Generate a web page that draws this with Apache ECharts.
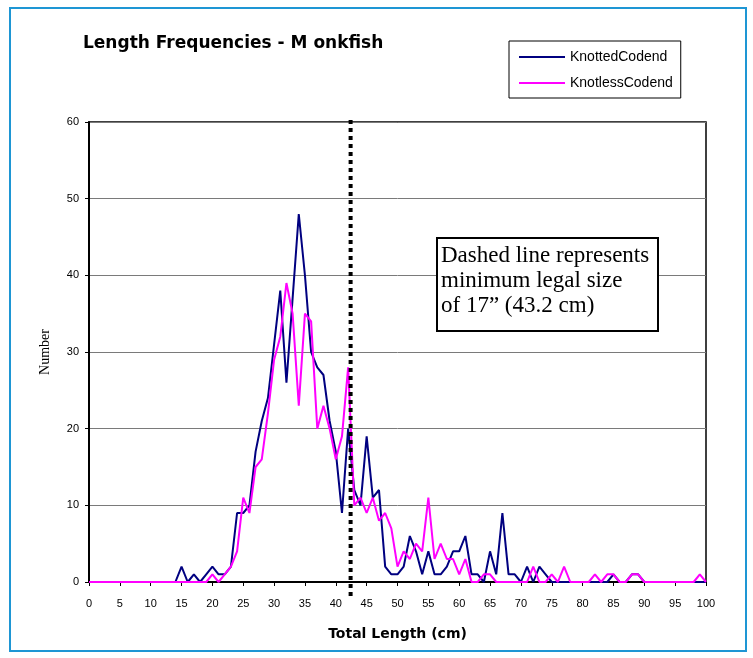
<!DOCTYPE html>
<html>
<head>
<meta charset="utf-8">
<title>Length Frequencies - Monkfish</title>
<script src="https://cdn.jsdelivr.net/npm/echarts@6/dist/echarts.min.js"></script>
<style>
html, body { margin: 0; padding: 0; background: #fff; }
#main { width: 753px; height: 658px; }
</style>
</head>
<body>
<div id="main"></div>
<script>
// total length (cm) of each count
const lengths = [
  0, 1, 2, 3, 4, 5, 6, 7, 8, 9,
  10, 11, 12, 13, 14, 15, 16, 17, 18, 19,
  20, 21, 22, 23, 24, 25, 26, 27, 28, 29,
  30, 31, 32, 33, 34, 35, 36, 37, 38, 39,
  40, 41, 42, 43, 44, 45, 46, 47, 48, 49,
  50, 51, 52, 53, 54, 55, 56, 57, 58, 59,
  60, 61, 62, 63, 64, 65, 66, 67, 68, 69,
  70, 71, 72, 73, 74, 75, 76, 77, 78, 79,
  80, 81, 82, 83, 84, 85, 86, 87, 88, 89,
  90, 91, 92, 93, 94, 95, 96, 97, 98, 99,
  100
]

const knotted = [
  0, 0, 0, 0, 0, 0, 0, 0, 0, 0,
  0, 0, 0, 0, 0, 2, 0, 1, 0, 1,
  2, 1, 1, 2, 9, 9, 10, 17, 21, 24,
  31, 38, 26, 37, 48, 40, 30, 28, 27, 21,
  17, 9, 20, 12, 10, 19, 11, 12, 2, 1,
  1, 2, 6, 4, 1, 4, 1, 1, 2, 4,
  4, 6, 1, 1, 0, 4, 1, 9, 1, 1,
  0, 2, 0, 2, 1, 0, 0, 0, 0, 0,
  0, 0, 0, 0, 0, 1, 0, 0, 1, 1,
  0, 0, 0, 0, 0, 0, 0, 0, 0, 0,
  0
]

const knotless = [
  0, 0, 0, 0, 0, 0, 0, 0, 0, 0,
  0, 0, 0, 0, 0, 0, 0, 0, 0, 0,
  1, 0, 1, 2, 4, 11, 9, 15, 16, 22,
  29, 32, 39, 35, 23, 35, 34, 20, 23, 20,
  16, 19, 28, 10, 11, 9, 11, 8, 9, 7,
  2, 4, 3, 5, 4, 11, 3, 5, 3, 3,
  1, 3, 0, 0, 1, 1, 0, 0, 0, 0,
  0, 0, 2, 0, 0, 1, 0, 2, 0, 0,
  0, 0, 1, 0, 1, 1, 0, 0, 1, 1,
  0, 0, 0, 0, 0, 0, 0, 0, 0, 1,
  0
]

const seriesNames = ['KnottedCodend', 'KnotlessCodend']
const legalLine = 42.4   // where the dashed line sits on the axis
const noteLines = ['Dashed line represents', 'minimum legal size', 'of 17\u201d (43.2 cm)']

var chartDom = document.getElementById('main')
var myChart = echarts.init(chartDom)
var option

function pairs(vals) {
  return lengths.map((x, i) => [x, vals[i]])
}

option = {
  animation: false,
  backgroundColor: '#fff',
  title: {
    text: 'Length Frequencies - M onkfish',
    left: 83,
    top: 35,
    padding: 0,
    textStyle: { fontFamily: 'DejaVu Sans', fontSize: 17, fontWeight: 'bold', color: '#000' }
  },
  legend: {
    data: seriesNames,
    orient: 'vertical',
    left: 509,
    top: 41,
    icon: 'rect',
    itemWidth: 46,
    itemHeight: 2,
    itemGap: 10,
    padding: [8, 8, 7, 10],
    borderColor: '#000',
    borderWidth: 1,
    backgroundColor: '#fff',
    textStyle: { fontFamily: 'Liberation Sans', fontSize: 14, lineHeight: 16, color: '#000' }
  },
  grid: {
    left: 89,
    right: 47,
    top: 122,
    bottom: 76,
    show: true,
    borderColor: '#000',
    borderWidth: 1.5
  },
  xAxis: {
    type: 'value',
    min: 0,
    max: 100,
    interval: 5,
    name: 'Total Length (cm)',
    nameLocation: 'middle',
    nameGap: 45,
    nameTextStyle: { fontFamily: 'DejaVu Sans', fontSize: 14, fontWeight: 'bold', color: '#000' },
    axisLine: { show: true, onZero: false, lineStyle: { color: '#000', width: 2 } },
    axisTick: { show: true, inside: false, length: 4, lineStyle: { color: '#000' } },
    axisLabel: { margin: 16, fontFamily: 'Liberation Sans', fontSize: 11, color: '#000' },
    splitLine: { show: false }
  },
  yAxis: {
    type: 'value',
    min: 0,
    max: 60,
    interval: 10,
    name: 'Number',
    nameLocation: 'middle',
    nameRotate: 90,
    nameGap: 37,
    nameTextStyle: { fontFamily: 'Liberation Serif', fontSize: 14, color: '#000' },
    axisLine: { show: true, lineStyle: { color: '#000', width: 2 } },
    axisTick: { show: true, inside: false, length: 4, lineStyle: { color: '#000' } },
    axisLabel: { margin: 10, fontFamily: 'Liberation Sans', fontSize: 11, color: '#000' },
    splitLine: { show: true, lineStyle: { color: '#7a7a7a', width: 1 } }
  },
  series: [
    {
      name: seriesNames[0],
      type: 'line',
      symbol: 'none',
      color: '#000080',
      lineStyle: { color: '#000080', width: 2 },
      data: pairs(knotted)
    },
    {
      name: seriesNames[1],
      type: 'line',
      symbol: 'none',
      color: '#ff00ff',
      lineStyle: { color: '#ff00ff', width: 2 },
      data: pairs(knotless)
    }
  ]
}
option && myChart.setOption(option)

// dashed legal-size line, note box and outer frame
var lx = myChart.convertToPixel({ xAxisIndex: 0 }, legalLine)
var yTop = myChart.convertToPixel({ yAxisIndex: 0 }, 60)
var yBottom = myChart.convertToPixel({ yAxisIndex: 0 }, 0)

myChart.setOption({
  graphic: [
    {
      type: 'rect',
      shape: { x: 10, y: 8, width: 736, height: 643 },
      style: { fill: null, stroke: '#1e96d4', lineWidth: 2 },
      silent: true
    },
    {
      type: 'line',
      shape: { x1: lx, y1: yTop - 2, x2: lx, y2: yBottom + 14 },
      style: { stroke: '#000', lineWidth: 4, lineDash: [4, 4] },
      z: 100
    },
    {
      type: 'rect',
      shape: { x: 437, y: 238, width: 221, height: 93 },
      style: { fill: '#fff', stroke: '#000', lineWidth: 2 },
      z: 100
    },
    {
      type: 'text',
      x: 441,
      y: 243,
      style: {
        text: noteLines.join('\n'),
        font: '23px "Liberation Serif"',
        lineHeight: 25,
        fill: '#000'
      },
      z: 101
    }
  ]
})
</script>
</body>
</html>
